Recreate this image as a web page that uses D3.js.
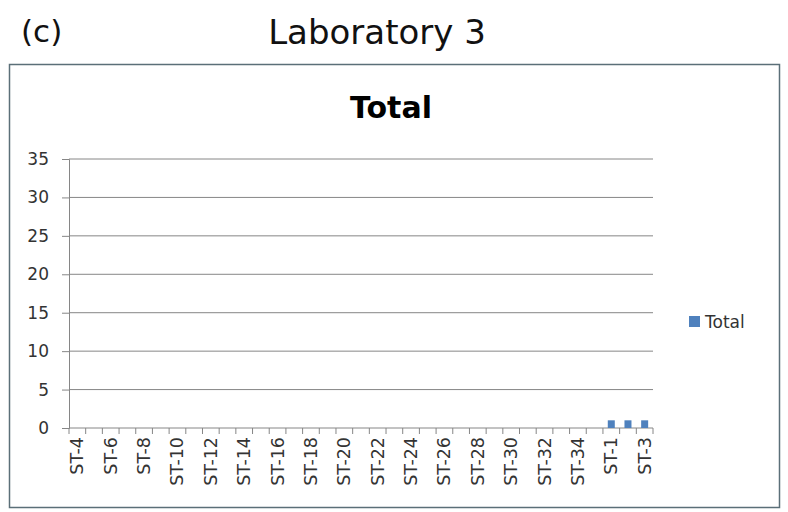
<html>
<head>
<script src="https://d3js.org/d3.v7.min.js"></script>
<style>
  body { margin:0; background:#fff; }
  text { font-family: "DejaVu Sans", sans-serif; }
</style>
</head>
<body>
<svg id="plot"></svg>
<script>

// categories along the x axis
var categories = ["ST-4","ST-5","ST-6","ST-7","ST-8","ST-9","ST-10","ST-11","ST-12","ST-13",
                  "ST-14","ST-15","ST-16","ST-17","ST-18","ST-19","ST-20","ST-21","ST-22","ST-23",
                  "ST-24","ST-25","ST-26","ST-27","ST-28","ST-29","ST-30","ST-31","ST-32","ST-33",
                  "ST-34","ST-35","ST-1","ST-2","ST-3"];
// series values (only the last three have counts)
var totals = [0,0,0,0,0,0,0,0,0,0,
              0,0,0,0,0,0,0,0,0,0,
              0,0,0,0,0,0,0,0,0,0,
              0,0,1,1,1];
var yTicks = [0,5,10,15,20,25,30,35];

var screen = {width:788, height:512};
var margins = {top:159, left:69, right:135, bottom:84};
var graph = {
    width: screen.width - margins.left - margins.right,
    height: screen.height - margins.top - margins.bottom
};

var svg = d3.select("#plot")
    .attr("width", screen.width)
    .attr("height", screen.height);

// outer frame
svg.append("rect")
    .attr("x", 9.5).attr("y", 64.5)
    .attr("width", 770).attr("height", 443)
    .attr("fill", "none")
    .attr("stroke", "#5b6f78")
    .attr("stroke-width", 1.5);

// headings
svg.append("text")
    .text("(c)")
    .attr("x", 21).attr("y", 42)
    .style("font-size", "31px")
    .attr("fill", "#111");

svg.append("text")
    .text("Laboratory 3")
    .attr("x", 377).attr("y", 44)
    .attr("text-anchor", "middle")
    .style("font-size", "34px")
    .attr("fill", "#111");

svg.append("text")
    .text("Total")
    .attr("x", 391).attr("y", 118)
    .attr("text-anchor", "middle")
    .style("font-size", "30px")
    .style("font-weight", "bold")
    .attr("fill", "#000");

//scales
var xScale = d3.scaleBand()
    .domain(categories)
    .range([0, graph.width])
    .paddingInner(0.58)
    .paddingOuter(0.29);

var yScale = d3.scaleLinear()
    .domain([0, 35])
    .range([graph.height, 0]);

var g = svg.append("g")
    .attr("transform", "translate(" + margins.left + "," + margins.top + ")");

// gridlines
g.append("g")
    .selectAll("line")
    .data(yTicks.filter(function(d){ return d > 0; }))
    .enter()
    .append("line")
    .attr("x1", 0).attr("x2", graph.width)
    .attr("y1", function(d){ return yScale(d); })
    .attr("y2", function(d){ return yScale(d); })
    .attr("stroke", "#868686")
    .attr("stroke-width", 1);

// y axis
var yAxis = d3.axisLeft(yScale)
    .tickValues(yTicks)
    .tickSize(7)
    .tickPadding(13);
var ya = g.append("g").call(yAxis);
ya.select(".domain").attr("stroke", "#868686");
ya.selectAll(".tick line").attr("stroke", "#868686");
ya.selectAll("text")
    .style("font-size", "17px")
    .attr("fill", "#333");

// x axis: ticks on category boundaries
var step = xScale.step();
var bounds = d3.range(categories.length + 1);
var xa = g.append("g")
    .attr("transform", "translate(0," + graph.height + ")");
xa.append("line")
    .attr("x1", 0).attr("x2", graph.width)
    .attr("stroke", "#868686");
xa.selectAll("line.tk")
    .data(bounds)
    .enter()
    .append("line")
    .classed("tk", true)
    .attr("x1", function(i){ return i * step; })
    .attr("x2", function(i){ return i * step; })
    .attr("y1", 0).attr("y2", 6)
    .attr("stroke", "#868686");

xa.selectAll("text")
    .data(categories.filter(function(d, i){ return i % 2 == 0; }))
    .enter()
    .append("text")
    .text(function(d){ return d; })
    .attr("text-anchor", "end")
    .style("font-size", "17.5px")
    .attr("fill", "#333")
    .attr("transform", function(d){
        return "translate(" + (xScale(d) + xScale.bandwidth()/2 + 6) + ",9) rotate(-90)";
    });

// bars
g.append("g")
    .selectAll("rect")
    .data(categories)
    .enter()
    .append("rect")
    .attr("x", function(d){ return xScale(d); })
    .attr("width", xScale.bandwidth())
    .attr("y", function(d, i){ return yScale(totals[i]); })
    .attr("height", function(d, i){ return graph.height - yScale(totals[i]); })
    .attr("fill", "#4f81bd");

// legend
var legend = svg.append("g")
    .attr("transform", "translate(689,316)");
legend.append("rect")
    .attr("width", 11).attr("height", 11)
    .attr("fill", "#4f81bd");
legend.append("text")
    .text("Total")
    .attr("x", 16).attr("y", 12)
    .style("font-size", "17px")
    .attr("fill", "#333");

</script>
</body>
</html>
